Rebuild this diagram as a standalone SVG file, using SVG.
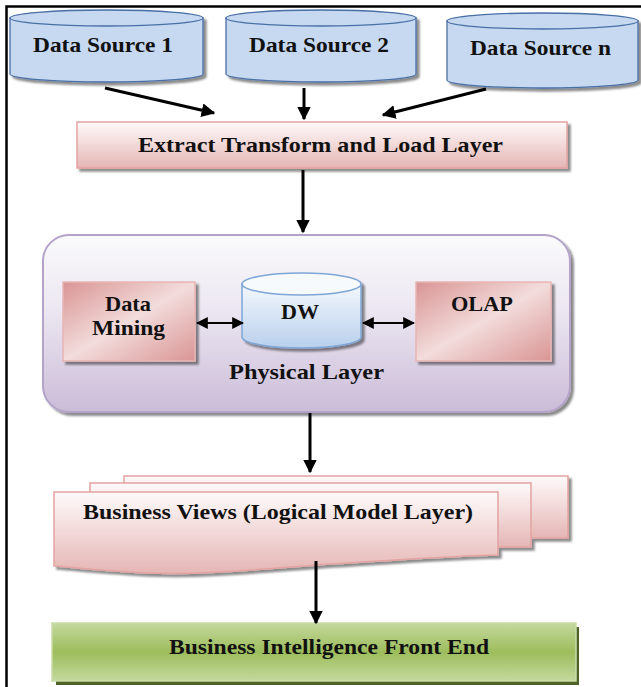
<svg xmlns="http://www.w3.org/2000/svg" width="641" height="687" viewBox="0 0 641 687">
<style>
  .t { font-family: "Liberation Serif", "Times New Roman", serif; font-weight: bold; font-size: 21px; fill: #111; }
  .cyl { fill: #c6d9f1; stroke: #4a6fa5; stroke-width: 1.3; }
  .cyltop { fill: #c6d9f1; stroke: #4a6fa5; stroke-width: 1.3; }
  .pink { stroke: #e3a3a2; stroke-width: 1.5; }
  .conn { stroke: #000; stroke-width: 3; fill: none; }
  .dbl { stroke: #000; stroke-width: 2; fill: none; }
</style>
<defs>
  <filter id="sh" x="-10%" y="-10%" width="130%" height="140%">
    <feDropShadow dx="3" dy="3" stdDeviation="1.2" flood-color="#000" flood-opacity="0.45"/>
  </filter>
  <linearGradient id="gPinkV" x1="0" y1="0" x2="0" y2="1">
    <stop offset="0" stop-color="#fefafa"/>
    <stop offset="1" stop-color="#e5b6b5"/>
  </linearGradient>
  <linearGradient id="gPinkD" x1="0" y1="0" x2="1" y2="1">
    <stop offset="0" stop-color="#d99594"/>
    <stop offset="0.5" stop-color="#f2dcdb"/>
    <stop offset="1" stop-color="#d99594"/>
  </linearGradient>
  <linearGradient id="gLav" x1="0" y1="0" x2="0" y2="1">
    <stop offset="0" stop-color="#fafafc"/>
    <stop offset="0.4" stop-color="#ede8f2"/>
    <stop offset="1" stop-color="#cbbcd8"/>
  </linearGradient>
  <linearGradient id="gDW" x1="0" y1="0" x2="0" y2="1">
    <stop offset="0" stop-color="#f4f8fd"/>
    <stop offset="1" stop-color="#b9d0ec"/>
  </linearGradient>
  <linearGradient id="gGreen" x1="0" y1="0" x2="0" y2="1">
    <stop offset="0" stop-color="#c4d89e"/>
    <stop offset="0.5" stop-color="#9dbd5c"/>
    <stop offset="1" stop-color="#c4d89e"/>
  </linearGradient>
  <marker id="ah" viewBox="0 0 10 10" refX="9" refY="5" markerWidth="4.6" markerHeight="4.6" orient="auto-start-reverse" markerUnits="strokeWidth">
    <path d="M0,0 L10,5 L0,10 Z" fill="#000"/>
  </marker>
  <marker id="ah2" viewBox="0 0 10 10" refX="9" refY="5" markerWidth="6" markerHeight="6" orient="auto-start-reverse" markerUnits="strokeWidth">
    <path d="M0,0 L10,5 L0,10 Z" fill="#000"/>
  </marker>
</defs>

<rect width="641" height="687" fill="#fff"/>
<g id="frame">
  <path d="M6.5,687 V6.5 H641" fill="none" stroke="#000" stroke-width="2.5"/>
</g>

<g id="ds1">
  <g filter="url(#sh)">
    <path class="cyl" d="M10,18 V74 A96.5,8 0 0 0 203,74 V18 Z"/>
    <ellipse class="cyltop" cx="106.5" cy="18" rx="96.5" ry="8"/>
  </g>
  <text class="t" x="33" y="52" textLength="140" lengthAdjust="spacingAndGlyphs">Data Source 1</text>
</g>
<g id="ds2">
  <g filter="url(#sh)">
    <path class="cyl" d="M226,18 V74 A95,8 0 0 0 416,74 V18 Z"/>
    <ellipse class="cyltop" cx="321" cy="18" rx="95" ry="8"/>
  </g>
  <text class="t" x="249" y="52" textLength="140" lengthAdjust="spacingAndGlyphs">Data Source 2</text>
</g>
<g id="dsn">
  <g filter="url(#sh)">
    <path class="cyl" d="M447,21 V80 A95.5,8 0 0 0 638,80 V21 Z"/>
    <ellipse class="cyltop" cx="542.5" cy="21" rx="95.5" ry="8"/>
  </g>
  <text class="t" x="470" y="55" textLength="141" lengthAdjust="spacingAndGlyphs">Data Source n</text>
</g>

<g id="etl">
  <rect x="77" y="122" width="490" height="46" fill="url(#gPinkV)" class="pink" filter="url(#sh)"/>
  <text class="t" x="138" y="152" textLength="365" lengthAdjust="spacingAndGlyphs">Extract Transform and Load Layer</text>
</g>

<g id="physical">
  <rect x="43" y="235" width="527" height="177" rx="26" fill="url(#gLav)" stroke="#b4a3c8" stroke-width="2" filter="url(#sh)"/>
  <text class="t" x="229" y="379" textLength="155" lengthAdjust="spacingAndGlyphs">Physical Layer</text>
</g>

<g id="datamining">
  <rect x="63" y="282" width="132" height="79" fill="url(#gPinkD)" stroke="#e8b5b4" stroke-width="1.5" filter="url(#sh)"/>
  <text class="t" x="105" y="311" textLength="46" lengthAdjust="spacingAndGlyphs">Data</text>
  <text class="t" x="92" y="335" textLength="73" lengthAdjust="spacingAndGlyphs">Mining</text>
</g>

<g id="dw">
  <g filter="url(#sh)">
    <path d="M242,284 V337 A59.5,11 0 0 0 361,337 V284 Z" fill="url(#gDW)" stroke="#7ea6d6" stroke-width="1.5"/>
    <ellipse cx="301.5" cy="284" rx="59.5" ry="11" fill="#f7fafd" stroke="#7ea6d6" stroke-width="1.5"/>
  </g>
  <text class="t" x="281" y="319" textLength="38" lengthAdjust="spacingAndGlyphs">DW</text>
</g>

<g id="olap">
  <rect x="416" y="282" width="135" height="79" fill="url(#gPinkD)" stroke="#e8b5b4" stroke-width="1.5" filter="url(#sh)"/>
  <text class="t" x="451" y="311" textLength="62" lengthAdjust="spacingAndGlyphs">OLAP</text>
</g>

<g id="businessviews">
  <g filter="url(#sh)">
    <rect x="124" y="476" width="444" height="62" fill="url(#gPinkV)" class="pink"/>
    <rect x="90" y="483" width="441" height="64" fill="url(#gPinkV)" class="pink"/>
    <path d="M54,492 H498 V555 C450,556 400,560 330,564 C250,570 200,575 148,573 C110,571 80,568 54,566 Z" fill="url(#gPinkV)" class="pink"/>
  </g>
  <text class="t" x="83" y="519" textLength="390" lengthAdjust="spacingAndGlyphs">Business Views (Logical Model Layer)</text>
</g>

<g id="bifrontend">
  <rect x="56" y="627" width="523" height="58" fill="#4f6228"/>
  <rect x="52" y="623" width="524" height="58" fill="url(#gGreen)" stroke="#c9dca6" stroke-width="1.5"/>
  <text class="t" x="169" y="654" textLength="320" lengthAdjust="spacingAndGlyphs">Business Intelligence Front End</text>
</g>

<g id="connectors">
  <path class="conn" d="M105,88 L214,113" marker-end="url(#ah)"/>
  <path class="conn" d="M304,88 V119" marker-end="url(#ah)"/>
  <path class="conn" d="M486,89 L383,115" marker-end="url(#ah)"/>
  <path class="conn" d="M303,170 V232" marker-end="url(#ah)"/>
  <path class="dbl" d="M197,323 H243" marker-start="url(#ah2)" marker-end="url(#ah2)"/>
  <path class="dbl" d="M363,323 H414" marker-start="url(#ah2)" marker-end="url(#ah2)"/>
  <path class="conn" d="M310,413 V472" marker-end="url(#ah)"/>
  <path class="conn" d="M316,561 V623" marker-end="url(#ah)"/>
</g>
</svg>
